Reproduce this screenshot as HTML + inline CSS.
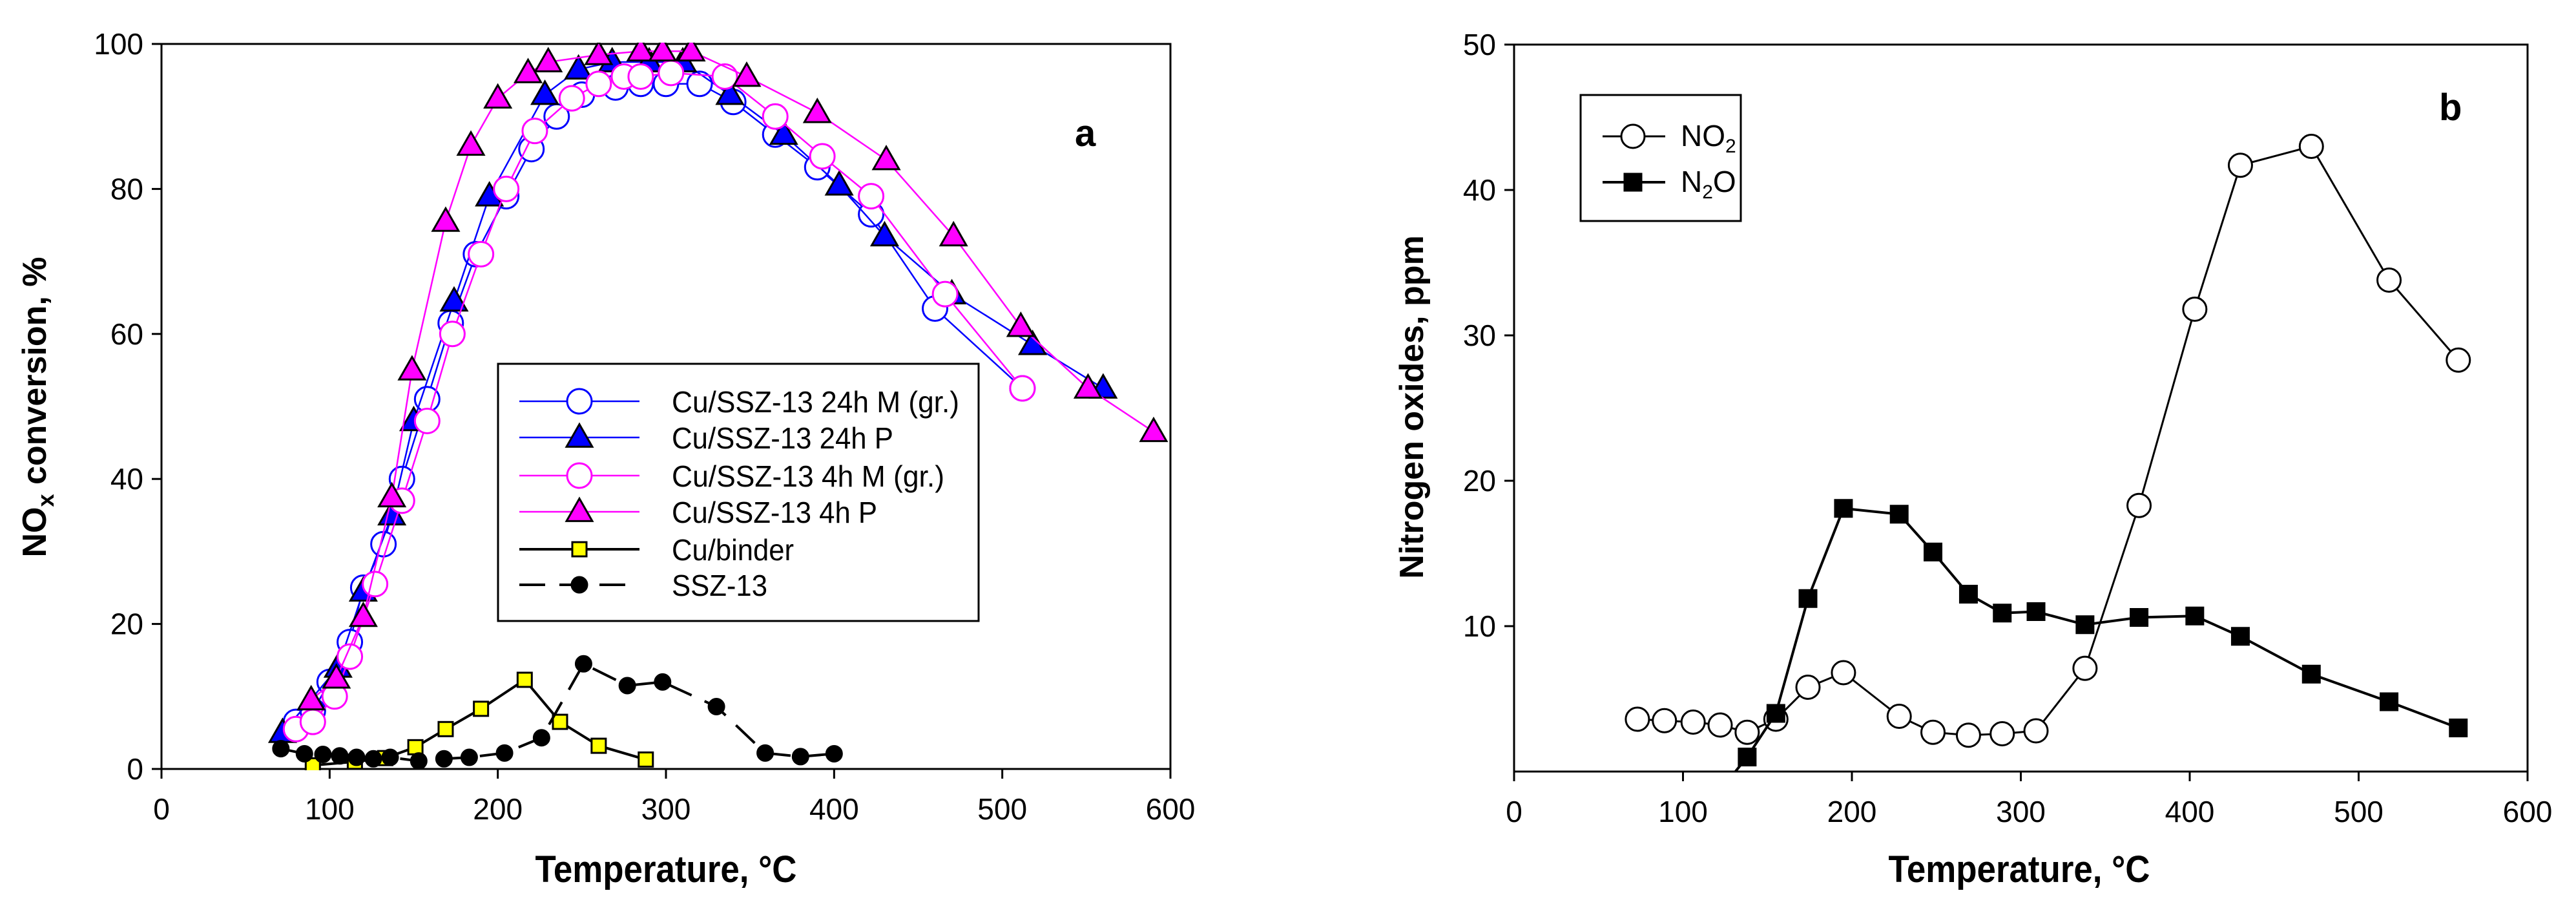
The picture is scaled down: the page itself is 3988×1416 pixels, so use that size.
<!DOCTYPE html>
<html><head><meta charset="utf-8"><style>
html,body{margin:0;padding:0;background:#fff;}
svg{display:block;}
text{font-family:"Liberation Sans Narrow","Liberation Sans",sans-serif;}
.tick{font-size:46px;fill:#000;}
.title{font-size:58px;font-weight:bold;fill:#000;}
.ytitle{font-family:"Liberation Sans",sans-serif;font-size:52px;font-weight:bold;fill:#000;}
.leg{font-size:46px;fill:#000;}
</style></head><body>
<svg id="svg" width="3988" height="1416" viewBox="0 0 3988 1416" xmlns="http://www.w3.org/2000/svg">
<defs>
<clipPath id="clipA"><rect x="250" y="66" width="1564" height="1126"/></clipPath>
<clipPath id="clipB"><rect x="2344" y="66" width="1571" height="1128"/></clipPath>
</defs>
<g id="chartA"></g>
<g id="chartB"></g>
</svg>
<script>
// ---------- Chart a data ----------
const xTicksA = [0,100,200,300,400,500,600];
const yTicksA = [0,20,40,60,80,100];
const m24T = [80,90,100,112,120,132,143,158,172,187,205,220,235,250,270,285,300,320,340,365,390,422,460,512];
const m24V = [6.5,8,12,17.5,25,31,40,51,61.5,71,79,85.5,90,93,94,94.5,94.5,94.5,92,87.5,83,76.5,63.5,52.5];
const p24T = [72,105,120,137,150,174,195,228,248,268,290,310,338,370,403,430,470,518,560];
const p24V = [5,14,24.5,35,48,64.5,79,93,96.5,97.5,97.5,97.5,93,87.5,80.5,73.5,65.5,58.5,52.5];
const m4T = [80,90,103,112,127,143,158,173,190,205,222,244,260,275,285,303,335,365,393,422,466,512];
const m4V = [5.5,6.5,10,15.5,25.5,37,48,60,71,80,88,92.5,94.5,95.5,95.5,96,95.5,90,84.5,79,65.5,52.5];
const p4T = [89,104,120,137,149,169,184,200,218,230,260,285,298,315,348,390,431,471,511,551,590];
const p4V = [9.5,12.5,21,37.5,55,75.5,86,92.5,96,97.5,98.5,99,99,99,95.5,90.5,84,73.5,61,52.5,46.5];
const binT = [90,115,133,151,169,190,216,237,260,288];
const binV = [0.5,1,1.5,3,5.5,8.3,12.3,6.5,3.2,1.3];
const sszT = [71,85,96,106,116,126,136,153,168,183,204,226,251,277,298,330,359,380,400];
const sszV = [2.8,2.1,2,1.8,1.6,1.4,1.6,1.1,1.4,1.6,2.2,4.3,14.5,11.5,12,8.6,2.2,1.7,2.1];
const legendA = ["Cu/SSZ-13 24h M (gr.)","Cu/SSZ-13 24h P","Cu/SSZ-13 4h M (gr.)","Cu/SSZ-13 4h P","Cu/binder","SSZ-13"];
const legendAWidths = [445,343,422,318,189,148];
// ---------- Chart b data ----------
const xTicksB = [0,100,200,300,400,500,600];
const yTicksB = [10,20,30,40,50];
const no2T = [73,89,106,122,138,155,174,195,228,248,269,289,309,338,370,403,430,472,518,559];
const no2V = [3.6,3.5,3.4,3.2,2.7,3.6,5.8,6.8,3.8,2.7,2.5,2.6,2.8,7.1,18.3,31.8,41.7,43,33.8,28.3];
const n2oT = [110,138,155,174,195,228,248,269,289,309,338,370,403,430,472,518,559];
const n2oV = [-3,1,4,11.9,18.1,17.7,15.1,12.2,10.9,11,10.1,10.6,10.7,9.3,6.7,4.8,3];

const NS="http://www.w3.org/2000/svg";
function mk(tag,attrs,parent){const e=document.createElementNS(NS,tag);for(const k in attrs)e.setAttribute(k,attrs[k]);parent.appendChild(e);return e;}

const AX0=250,AX1=1812,AY0=1190,AY1=68;
const xA=t=>AX0+(t/600)*(AX1-AX0);
const yA=v=>AY0-(v/100)*(AY0-AY1);
const BX0=2344,BX1=3913,BY0=1194,BY1=69;
const xB=t=>BX0+(t/600)*(BX1-BX0);
const yB=v=>BY0-(v/50)*(BY0-BY1);

function marker(g,type,cx,cy,fill,stroke,sz,name){
  let e;
  if(type==='circle'){e=mk('circle',{cx:cx,cy:cy,r:sz,fill:fill,stroke:stroke,'stroke-width':3},g);}
  else if(type==='tri'){const h=sz*1.8,w=sz*1.05;e=mk('polygon',{points:`${cx},${cy-h*0.6} ${cx-w},${cy+h*0.42} ${cx+w},${cy+h*0.42}`,fill:fill,stroke:'#000','stroke-width':3},g);}
  else {e=mk('rect',{x:cx-sz,y:cy-sz,width:2*sz,height:2*sz,fill:fill,stroke:'#000','stroke-width':3},g);}
  
  
  return e;
}
function series(g,T,V,fx,fy,o,name){
  const sg=mk('g',{},g);
  
  
  const pts=T.map((t,i)=>fx(t)+','+fy(V[i])).join(' ');
  const l=mk('polyline',{points:pts,fill:'none',stroke:o.line,'stroke-width':o.lw},sg);
  if(o.dash)l.setAttribute('stroke-dasharray',o.dash);
  
  
  T.forEach((t,i)=>marker(sg,o.type,fx(t),fy(V[i]),o.fill,o.stroke,o.sz,name+'-point'));
}
function axes(g,X0,X1,Y0,Y1,xt,yt,fx,fy,p){
  const f=mk('rect',{x:X0,y:Y1,width:X1-X0,height:Y0-Y1,fill:'none',stroke:'#000','stroke-width':3},g);
  
  
  xt.forEach(t=>{
    mk('line',{x1:fx(t),x2:fx(t),y1:Y0,y2:Y0+15,stroke:'#000','stroke-width':3},g);
    const tx=mk('text',{x:fx(t),y:Y0+78,'text-anchor':'middle',class:'tick'},g);tx.textContent=t;
    
    
  });
  yt.forEach(v=>{
    mk('line',{x1:X0-15,x2:X0,y1:fy(v),y2:fy(v),stroke:'#000','stroke-width':3},g);
    const tx=mk('text',{x:X0-28,y:fy(v)+16,'text-anchor':'end',class:'tick'},g);tx.textContent=v;
    
    
  });
}

// ---- Chart A ----
const gA=document.getElementById('chartA');
axes(gA,AX0,AX1,AY0,AY1,xTicksA,yTicksA,xA,yA,'a-');
const plotA=mk('g',{'clip-path':'url(#clipA)'},gA);


const stA=[
 {T:m24T,V:m24V,o:{line:'#0000ff',lw:2.5,type:'circle',fill:'#fff',stroke:'#0000ff',sz:19},n:'series-24h-m'},
 {T:p24T,V:p24V,o:{line:'#0000ff',lw:2.5,type:'tri',fill:'#0000ff',stroke:'#000',sz:19},n:'series-24h-p'},
 {T:m4T,V:m4V,o:{line:'#ff00ff',lw:2.5,type:'circle',fill:'#fff',stroke:'#ff00ff',sz:19},n:'series-4h-m'},
 {T:p4T,V:p4V,o:{line:'#ff00ff',lw:2.5,type:'tri',fill:'#ff00ff',stroke:'#000',sz:19},n:'series-4h-p'},
 {T:binT,V:binV,o:{line:'#000',lw:4,type:'sq',fill:'#ffff00',stroke:'#000',sz:11},n:'series-cu-binder'},
 {T:sszT,V:sszV,o:{line:'#000',lw:4,dash:'40 22',type:'circle',fill:'#000',stroke:'#000',sz:12},n:'series-ssz13'}
];
stA.forEach(s=>series(plotA,s.T,s.V,xA,yA,s.o,s.n));
const la=mk('text',{x:1664,y:226,class:'title','font-size':'64'},gA);la.textContent='a';


const lgA=mk('g',{},gA);


mk('rect',{x:771,y:563,width:744,height:398,fill:'#fff',stroke:'#000','stroke-width':3},lgA);
const rowsA=[621,677,736,792,850,905];
stA.forEach((s,i)=>{
  const eg=mk('g',{},lgA);
  
  
  const l=mk('line',{x1:804,x2:990,y1:rowsA[i],y2:rowsA[i],stroke:s.o.line,'stroke-width':s.o.lw},eg);
  if(s.o.dash)l.setAttribute('stroke-dasharray','40 22');
  marker(eg,s.o.type,897,rowsA[i],s.o.fill,s.o.stroke,s.o.sz,'legend-marker');
  const t=mk('text',{x:1040,y:rowsA[i]+17,class:'leg',textLength:legendAWidths[i],lengthAdjust:'spacingAndGlyphs'},eg);t.textContent=legendA[i];
});
const xtA=mk('text',{x:1031,y:1365,'text-anchor':'middle',class:'title',textLength:405,lengthAdjust:'spacingAndGlyphs'},gA);xtA.textContent='Temperature, °C';


const ytA=mk('text',{x:0,y:0,'text-anchor':'middle',class:'ytitle',transform:'translate(71,630) rotate(-90)'},gA);
ytA.innerHTML='NO<tspan font-size="36" dy="12">x</tspan><tspan dy="-12"> conversion, %</tspan>';



// ---- Chart B ----
const gB=document.getElementById('chartB');
axes(gB,BX0,BX1,BY0,BY1,xTicksB,yTicksB,xB,yB,'b-');
const plotB=mk('g',{'clip-path':'url(#clipB)'},gB);


const stB=[
 {T:no2T,V:no2V,o:{line:'#000',lw:3,type:'circle',fill:'#fff',stroke:'#000',sz:18},n:'series-no2'},
 {T:n2oT,V:n2oV,o:{line:'#000',lw:4,type:'sq',fill:'#000',stroke:'#000',sz:13},n:'series-n2o'}
];
stB.forEach(s=>series(plotB,s.T,s.V,xB,yB,s.o,s.n));
const lb=mk('text',{x:3776,y:186,class:'title','font-size':'64'},gB);lb.textContent='b';


const lgB=mk('g',{},gB);


mk('rect',{x:2447,y:147,width:248,height:195,fill:'#fff',stroke:'#000','stroke-width':3},lgB);
const rowsB=[211,282];
const labB=['NO<tspan font-size="30" dy="10">2</tspan>','N<tspan font-size="30" dy="10">2</tspan><tspan dy="-10">O</tspan>'];
stB.forEach((s,i)=>{
  const eg=mk('g',{},lgB);
  
  
  mk('line',{x1:2481,x2:2578,y1:rowsB[i],y2:rowsB[i],stroke:'#000','stroke-width':s.o.lw},eg);
  marker(eg,s.o.type,2528,rowsB[i],s.o.fill,s.o.stroke,s.o.sz,'legend-marker');
  const t=mk('text',{x:2602,y:rowsB[i]+15,class:'leg'},eg);t.innerHTML=labB[i];
});
const xtB=mk('text',{x:3126,y:1365,'text-anchor':'middle',class:'title',textLength:405,lengthAdjust:'spacingAndGlyphs'},gB);xtB.textContent='Temperature, °C';


const ytB=mk('text',{x:0,y:0,'text-anchor':'middle',class:'ytitle',transform:'translate(2203,630) rotate(-90)'},gB);
ytB.textContent='Nitrogen oxides, ppm';


</script>
</body></html>
